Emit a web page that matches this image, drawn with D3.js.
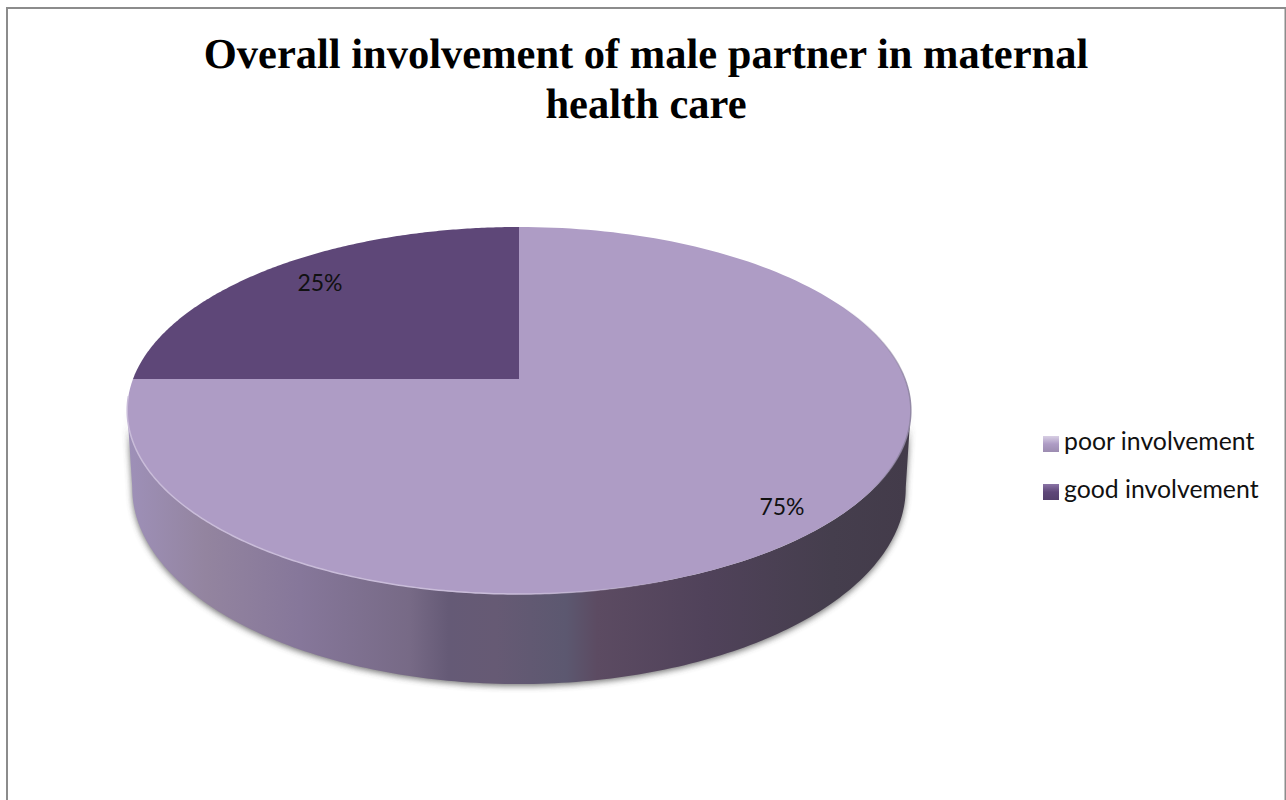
<!DOCTYPE html>
<html>
<head>
<meta charset="utf-8">
<script src="https://cdn.jsdelivr.net/npm/d3@7"></script>
<style>
  html, body { margin: 0; padding: 0; background: #fff; }
  svg { display: block; }
</style>
</head>
<body>
<svg id="chart" width="1286" height="800"></svg>
<script>
// Chart content
const titleLines = ["Overall involvement of male partner in maternal", "health care"];
const categories = ["poor involvement", "good involvement"];
const shares = [75, 25];
const topColors = ["#ae9cc5", "#5e4778"];
const swatchLight = ["#d8cfe4", "#8a74a6"];

// Shading of the pie wall, left to right
const wallOffsets = [0, 0.1, 0.22, 0.36, 0.41, 0.47, 0.56, 0.6, 0.74, 0.9, 1];
const wallShades = ["#9e90b8", "#93849f", "#86779a", "#776a86", "#655a76", "#665a74", "#5c5870", "#5c4b62", "#50425a", "#453e4d", "#433b4a"];

const svg = d3.select("#chart");
const defs = svg.append("defs");

// Perspective projection of the pie's discs on to the page:
// the upper face and the lower rim have their own extents
const discs = [
  { cx: 519, cy: 379, rx: 386, ry: 178.1, k: 0.1717 },
  { cx: 519, cy: 454.4, rx: 381, ry: 190.2, k: 0.1717 }
];
function project(angle, level) {
  const d = discs[level];
  const u = Math.sin(angle), v = Math.cos(angle);
  const w = 1 + d.k * v;
  return [d.cx + d.rx * u / w, d.cy - d.ry * v / w];
}
const outline = d3.line();
const arcPoints = (a0, a1, level) =>
  d3.range(0, 181).map(i => project(a0 + (a1 - a0) * i / 180, level));

// Wedges start at twelve o'clock and run clockwise
const pie = d3.pie().sort(null).value(d => d);
const arcs = pie(shares);

// Wall: the front of the disc extruded downward
const wallX = d3.scaleLinear().domain([0, 1]).range([128, 910]);
const wallGrad = defs.append("linearGradient")
  .attr("id", "wallShade").attr("gradientUnits", "userSpaceOnUse")
  .attr("x1", wallX(0)).attr("x2", wallX(1)).attr("y1", 0).attr("y2", 0);
wallGrad.selectAll("stop").data(wallOffsets).join("stop")
  .attr("offset", d => d).attr("stop-color", (d, i) => wallShades[i]);

defs.append("filter").attr("id", "softShadow")
  .attr("x", "-5%").attr("y", "-5%").attr("width", "110%").attr("height", "115%")
  .append("feGaussianBlur").attr("stdDeviation", 3);

const frontStart = Math.PI / 2 + 0.17, frontEnd = 3 * Math.PI / 2 - 0.17;
const wallPath = outline([
  ...arcPoints(frontStart, frontEnd, 0),
  ...arcPoints(frontStart, frontEnd, 1).reverse()
]) + "Z";

svg.append("path").attr("d", wallPath).attr("fill", "#444")
  .attr("opacity", 0.75).attr("transform", "translate(0,2)")
  .attr("filter", "url(#softShadow)");
svg.append("path").attr("d", wallPath).attr("fill", "url(#wallShade)");

// Top face of each wedge
svg.append("g").selectAll("path").data(arcs).join("path")
  .attr("d", d => outline([
    ...arcPoints(d.startAngle, d.endAngle, 0),
    [discs[0].cx, discs[0].cy]
  ]) + "Z")
  .attr("fill", (d, i) => topColors[i]);

// Highlight along the lower left rim
const rim = defs.append("linearGradient").attr("id", "rimGlow")
  .attr("gradientUnits", "userSpaceOnUse")
  .attr("x1", 128).attr("x2", 680).attr("y1", 0).attr("y2", 0);
rim.append("stop").attr("offset", 0).attr("stop-color", "#c9bcd9");
rim.append("stop").attr("offset", 0.7).attr("stop-color", "#c9bcd9");
rim.append("stop").attr("offset", 1).attr("stop-color", "#c9bcd9").attr("stop-opacity", 0);
svg.append("path")
  .attr("d", outline(arcPoints(Math.PI * 0.9, Math.PI * 1.47, 0)))
  .attr("fill", "none").attr("stroke", "url(#rimGlow)").attr("stroke-width", 1.5);

// Darker edge on the right of the disc, fading out at both ends
const edge = defs.append("linearGradient").attr("id", "edgeFade")
  .attr("gradientUnits", "userSpaceOnUse")
  .attr("x1", 0).attr("x2", 0).attr("y1", 300).attr("y2", 500);
[[0, 0], [0.45, 0.9], [0.75, 0.9], [1, 0]].forEach(([o, a]) =>
  edge.append("stop").attr("offset", o).attr("stop-color", "#8d83a0").attr("stop-opacity", a));
svg.append("path")
  .attr("d", outline(arcPoints(Math.PI * 0.3, Math.PI * 0.72, 0)))
  .attr("fill", "none").attr("stroke", "url(#edgeFade)").attr("stroke-width", 1.5);

// Percentage labels
const labelSpots = [[782, 515], [320, 291]];
svg.append("g").selectAll("text").data(shares).join("text")
  .attr("x", (d, i) => labelSpots[i][0]).attr("y", (d, i) => labelSpots[i][1])
  .attr("text-anchor", "middle")
  .attr("font-family", "Lato, sans-serif").attr("font-size", 23).attr("fill", "#111")
  .text(d => d + "%");

// Title
svg.append("g").selectAll("text").data(titleLines).join("text")
  .attr("x", 646).attr("y", (d, i) => 68 + i * 50)
  .attr("text-anchor", "middle")
  .attr("font-family", "'Liberation Serif', serif").attr("font-weight", "bold")
  .attr("font-size", 42.5).attr("fill", "#000")
  .attr("text-rendering", "geometricPrecision")
  .text(d => d);

// Legend
const legendY = d3.scalePoint().domain(categories).range([444, 492]);
const legend = svg.append("g").selectAll("g").data(categories).join("g")
  .attr("transform", d => `translate(1043,${legendY(d)})`);
categories.forEach((c, i) => {
  const g = defs.append("linearGradient").attr("id", "swatch" + i)
    .attr("x1", 0).attr("x2", 0).attr("y1", 0).attr("y2", 1);
  g.append("stop").attr("offset", 0).attr("stop-color", swatchLight[i]);
  g.append("stop").attr("offset", 0.5).attr("stop-color", topColors[i]);
  g.append("stop").attr("offset", 1).attr("stop-color", d3.color(topColors[i]).darker(0.3));
});
legend.append("rect").attr("x", 0).attr("y", -8).attr("width", 16).attr("height", 16)
  .attr("fill", (d, i) => `url(#swatch${i})`);
legend.append("text").attr("x", 21).attr("y", 6)
  .attr("font-family", "Lato, sans-serif").attr("font-size", 24.8).attr("fill", "#111")
  .text(d => d);

// Page frame
svg.append("path").attr("d", "M7,800V8H1285.5V800")
  .attr("fill", "none").attr("stroke", "#8c8c8c").attr("stroke-width", 2);
</script>
</body>
</html>
